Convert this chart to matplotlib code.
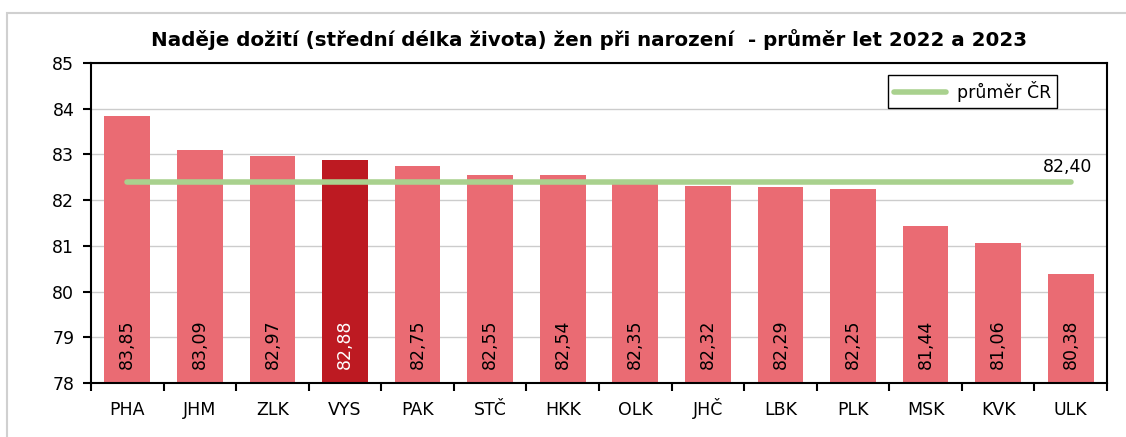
import numpy as np
import matplotlib.pyplot as plt
from matplotlib.patches import Rectangle

regions = ["PHA", "JHM", "ZLK", "VYS", "PAK", "STČ", "HKK", "OLK", "JHČ", "LBK", "PLK", "MSK", "KVK", "ULK"]
values = [83.85, 83.09, 82.97, 82.88, 82.75, 82.55, 82.54, 82.35, 82.32, 82.29, 82.25, 81.44, 81.06, 80.38]
avg_cr = 82.40
highlight = "VYS"

title = "Naděje dožití (střední délka života) žen při narození  - průměr let 2022 a 2023"


def fmt(v):
    return f"{v:.2f}".replace(".", ",")


def main():
    plt.rcParams['font.family'] = ['DejaVu Sans']
    fig = plt.figure(figsize=(11.26, 4.37), dpi=100)
    ax = fig.add_axes([91 / 1126, 1 - 383 / 437, (1107 - 91) / 1126, (383 - 63) / 437])

    # grey outer frame like the excel chart area
    fig.patches.append(Rectangle((7 / 1126, -0.1), 1.2, 1 - 13 / 437 + 0.1,
                                 transform=fig.transFigure, fill=False,
                                 edgecolor='#d0d0d0', linewidth=1.5))

    x = np.arange(len(regions))
    colors = ['#bd1a22' if r == highlight else '#ea6b73' for r in regions]
    ax.bar(x, np.array(values) - 78, bottom=78, width=0.63, color=colors, zorder=2)

    for xi, v, r in zip(x, values, regions):
        ax.text(xi, 78.84, fmt(v), rotation=90, ha='center', va='center',
                fontsize=12.5, color='white' if r == highlight else 'black', zorder=3)

    ax.plot([x[0], x[-1]], [avg_cr, avg_cr], color='#a9d18e', linewidth=4,
            solid_capstyle='round', label='průměr ČR', zorder=4)
    ax.text(x[-1] + 0.3, avg_cr + 0.12, fmt(avg_cr), ha='right', va='bottom', fontsize=12.5)

    ax.set_xlim(-0.5, len(regions) - 0.5)
    ax.set_ylim(78, 85)
    ax.set_yticks(range(78, 86))
    ax.set_yticklabels([str(t) for t in range(78, 86)], fontsize=12.5)
    ax.yaxis.grid(True, color='#cccccc', linewidth=1, zorder=0)
    ax.set_axisbelow(True)

    ax.set_xticks(x)
    ax.set_xticklabels(regions, fontsize=12.5, va='baseline')
    ax.tick_params(axis='x', which='major', length=0, pad=23)
    ax.set_xticks(np.arange(-0.5, len(regions)), minor=True)
    ax.tick_params(axis='x', which='minor', length=6, width=1.5, direction='out')
    ax.tick_params(axis='y', length=6, width=1.5, direction='out', pad=6)

    for s in ax.spines.values():
        s.set_linewidth(1.5)
        s.set_color('black')

    leg = ax.legend(loc='upper right', bbox_to_anchor=(0.951, 0.962), borderaxespad=0,
                    fontsize=12.5, fancybox=False, framealpha=1, edgecolor='black',
                    handlelength=3.0, borderpad=0.35, handletextpad=0.6)
    leg.get_frame().set_linewidth(1)

    fig.text(0.523, 1 - 40 / 437, title, ha='center', va='center',
             fontsize=14.3, fontweight='bold')

    fig.savefig('out.png', dpi=100)


if __name__ == "__main__":
    main()
